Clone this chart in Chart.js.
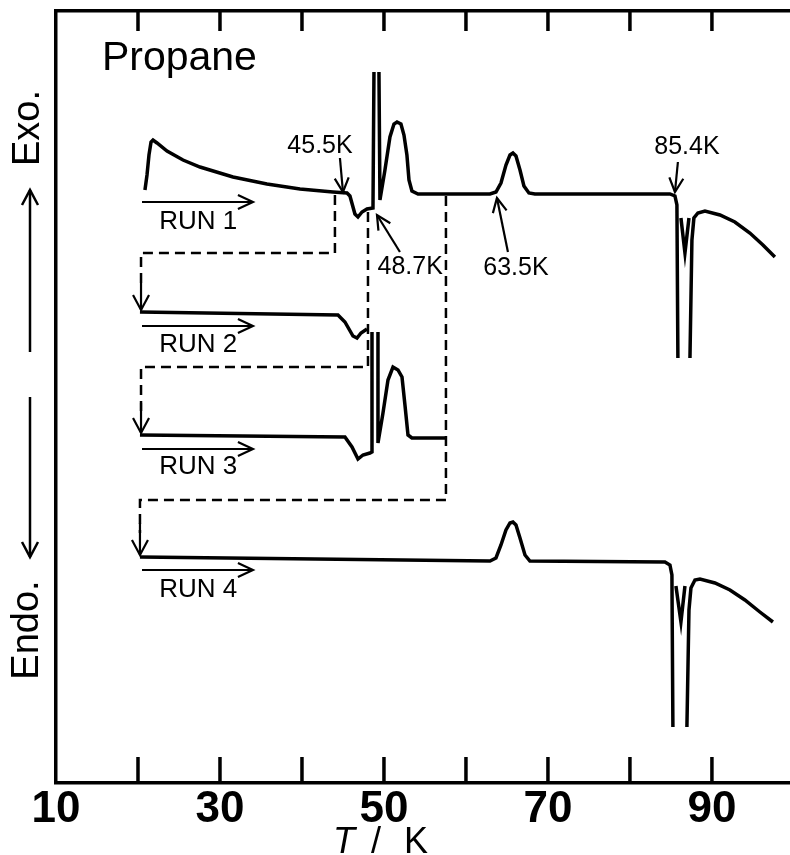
<!DOCTYPE html>
<html>
<head>
<meta charset="utf-8">
<script src="https://cdn.jsdelivr.net/npm/chart.js@4.4.1/dist/chart.umd.min.js"></script>
<style>
  html, body { margin: 0; padding: 0; background: #fff; }
  canvas { display: block; }
</style>
</head>
<body>
<canvas id="dsc" width="790" height="855"></canvas>
<script>
// temperature axis (K)
var tickValues = [20, 30, 40, 50, 60, 70, 80, 90];
var tickLabels = [10, 30, 50, 70, 90];

// heat flow, arbitrary units (exo up); null = pen off scale
var run1T = [20.85, 21.10, 21.34, 21.59, 21.83, 22.32, 23.54, 25.49, 27.56, 31.59, 35.73, 39.76, 43.78, 45.49, 45.85, 46.46, 46.83, 47.32, 47.93, 48.66, 48.78, 48.78, 49.39, 49.51, 50.12, 50.73, 51.22, 51.59, 52.07, 52.44, 52.80, 53.05, 53.41, 54.15, 62.93, 63.66, 64.27, 64.88, 65.37, 65.73, 66.10, 66.59, 67.07, 67.68, 68.41, 84.88, 85.49, 85.73, 85.85, 85.85, 86.22, 86.71, 87.20, 87.20, 87.32, 87.56, 87.80, 88.29, 89.15, 90.98, 92.80, 94.63, 96.22, 97.68];
var run1Y = [59.3, 60.8, 62.8, 64.1, 64.3, 64.0, 63.2, 62.3, 61.6, 60.6, 59.9, 59.4, 59.1, 59.0, 58.7, 56.9, 56.6, 57.1, 57.4, 57.5, 71.1, null, 71.1, 58.3, 61.3, 64.6, 65.9, 66.1, 65.9, 64.8, 62.8, 60.3, 59.2, 58.9, 58.9, 59.1, 60.0, 61.8, 62.8, 63.0, 62.7, 61.3, 59.7, 59.0, 58.9, 58.9, 58.7, 57.8, 42.5, null, 56.5, 53.0, 56.5, null, 42.5, 54.3, 56.5, 57.0, 57.2, 56.8, 56.1, 55.0, 53.8, 52.6];

var run2T = [20.24, 44.39, 45.24, 46.22, 46.71, 47.20, 47.93];
var run2Y = [47.1, 46.8, 46.1, 44.7, 44.5, 45.0, 45.4];

var run3T = [20.24, 45.24, 46.10, 46.83, 47.44, 48.29, 48.54, 48.54, 48.54, 49.27, 49.27, 49.88, 50.49, 51.10, 51.71, 52.20, 52.56, 52.93, 53.41, 57.56];
var run3Y = [34.8, 34.6, 33.6, 32.4, 32.8, 33.0, 33.1, 45.1, null, 45.1, 34.0, 37.0, 40.3, 41.6, 41.3, 40.6, 37.8, 34.8, 34.5, 34.5];

var run4T = [20.24, 62.93, 63.66, 64.27, 64.88, 65.37, 65.73, 66.10, 66.59, 67.20, 67.80, 84.27, 84.88, 85.12, 85.24, 85.24, 85.61, 86.22, 86.71, 86.71, 86.95, 87.20, 87.44, 87.93, 88.54, 90.37, 92.20, 94.02, 95.85, 97.44];
var run4Y = [22.6, 22.2, 22.5, 23.8, 25.3, 26.0, 26.1, 25.8, 24.5, 22.8, 22.2, 22.1, 21.8, 20.8, 5.6, null, 19.7, 16.1, 19.7, null, 5.6, 17.3, 19.5, 20.3, 20.4, 20.0, 19.3, 18.3, 17.1, 16.1];

// cooling paths between runs (dashed)
var cool1T = [44.02, 44.02, 20.37, 20.37];
var cool1Y = [58.8, 53.0, 53.0, 49.5];
var cool2T = [48.05, 48.05, 20.37, 20.37];
var cool2Y = [57.1, 41.6, 41.6, 37.2];
var cool3T = [57.56, 57.56, 20.24, 20.24];
var cool3Y = [58.7, 28.3, 28.3, 25.0];

var runNames = ["RUN 1", "RUN 2", "RUN 3", "RUN 4"];
var transitions = ["45.5K", "48.7K", "63.5K", "85.4K"];

function pts(t, y) {
  return t.map(function (v, i) { return { x: v, y: y[i] }; });
}

function curve(t, y) {
  return { data: pts(t, y), borderColor: "#000", borderWidth: 3.5, pointRadius: 0, tension: 0, spanGaps: false };
}

function dashed(t, y) {
  return { data: pts(t, y), borderColor: "#000", borderWidth: 2.5, borderDash: [10, 6], pointRadius: 0, tension: 0 };
}

function arrow(ctx, x1, y1, x2, y2, head, half) {
  ctx.beginPath();
  ctx.moveTo(x1, y1);
  ctx.lineTo(x2, y2);
  ctx.stroke();
  var a = Math.atan2(y2 - y1, x2 - x1);
  var c = Math.cos(a), s = Math.sin(a);
  ctx.beginPath();
  ctx.moveTo(x2 - head * c + half * s, y2 - head * s - half * c);
  ctx.lineTo(x2, y2);
  ctx.lineTo(x2 - head * c - half * s, y2 - head * s + half * c);
  ctx.stroke();
}

var decor = {
  id: "decor",
  afterDatasetsDraw: function (chart) {
    var ctx = chart.ctx;
    var xs = chart.scales.x, ys = chart.scales.y, ca = chart.chartArea;
    function X(t) { return xs.getPixelForValue(t); }
    function Y(v) { return ys.getPixelForValue(v); }
    ctx.save();
    ctx.strokeStyle = "#000";
    ctx.fillStyle = "#000";
    ctx.lineCap = "butt";

    // inward ticks
    ctx.lineWidth = 3.5;
    tickValues.forEach(function (t) {
      var x = X(t);
      ctx.beginPath();
      ctx.moveTo(x, ca.bottom);
      ctx.lineTo(x, ca.bottom - 26);
      ctx.moveTo(x, ca.top);
      ctx.lineTo(x, ca.top + 20);
      ctx.stroke();
    });

    // arrows at the end of the cooling paths
    ctx.lineWidth = 2.2;
    arrow(ctx, X(20.37), Y(50), X(20.37), Y(47.3), 15, 8);
    arrow(ctx, X(20.37), Y(38), X(20.37), Y(35.0), 15, 8);
    arrow(ctx, X(20.24), Y(26), X(20.24), Y(22.8), 15, 8);

    // heating direction arrows
    var runArrowY = [58.1, 45.7, 33.4, 21.3];
    var runLabelY = [56.1, 43.8, 31.6, 19.3];
    ctx.font = "26px 'Liberation Sans', Arial, sans-serif";
    ctx.textAlign = "left";
    ctx.textBaseline = "middle";
    runNames.forEach(function (name, i) {
      arrow(ctx, X(20.49), Y(runArrowY[i]), X(34.02), Y(runArrowY[i]), 15, 7);
      ctx.fillText(name, X(22.6), Y(runLabelY[i]));
    });

    // transition temperature labels
    var lab = [[42.2, 63.7], [53.2, 51.6], [66.1, 51.5], [86.95, 63.6]];
    var tail = [[44.63, 62.5], [51.95, 53.1], [65.12, 53.1], [85.85, 62.1]];
    var tip = [[45.0, 59.1], [49.15, 56.8], [63.78, 58.5], [85.49, 59.1]];
    ctx.font = "25px 'Liberation Sans', Arial, sans-serif";
    ctx.textAlign = "center";
    transitions.forEach(function (s, i) {
      ctx.fillText(s, X(lab[i][0]), Y(lab[i][1]));
      arrow(ctx, X(tail[i][0]), Y(tail[i][1]), X(tip[i][0]), Y(tip[i][1]), 14, 7);
    });

    // sample name
    ctx.font = "41px 'Liberation Sans', Arial, sans-serif";
    ctx.textAlign = "left";
    ctx.textBaseline = "alphabetic";
    ctx.fillText("Propane", X(15.6), Y(71.3));

    // Exo / Endo
    ctx.lineWidth = 2.5;
    arrow(ctx, 30, 352, 30, 190, 15, 8);
    arrow(ctx, 30, 397, 30, 557, 15, 8);
    ctx.font = "38px 'Liberation Sans', Arial, sans-serif";
    ctx.textAlign = "center";
    ctx.textBaseline = "middle";
    ctx.save();
    ctx.translate(29, 128);
    ctx.rotate(-Math.PI / 2);
    ctx.fillText("Exo.", 0, 0);
    ctx.restore();
    ctx.save();
    ctx.translate(28, 630);
    ctx.rotate(-Math.PI / 2);
    ctx.fillText("Endo.", 0, 0);
    ctx.restore();

    // axis title T / K
    ctx.textAlign = "left";
    ctx.textBaseline = "alphabetic";
    ctx.font = "italic 36px 'Liberation Sans', Arial, sans-serif";
    ctx.fillText("T", 333, 853);
    ctx.font = "36px 'Liberation Sans', Arial, sans-serif";
    ctx.fillText("/", 371, 853);
    ctx.fillText("K", 404, 853);
    ctx.restore();
  }
};

new Chart(document.getElementById("dsc"), {
  type: "line",
  data: {
    datasets: [
      curve(run1T, run1Y),
      curve(run2T, run2Y),
      curve(run3T, run3Y),
      curve(run4T, run4Y),
      dashed(cool1T, cool1Y),
      dashed(cool2T, cool2Y),
      dashed(cool3T, cool3Y)
    ]
  },
  options: {
    responsive: false,
    animation: false,
    layout: { padding: { left: 0, right: 1, top: 0, bottom: 0 } },
    plugins: { legend: { display: false }, tooltip: { enabled: false } },
    scales: {
      x: {
        type: "linear",
        position: "bottom",
        min: 10,
        max: 99.4,
        grid: { display: false, drawTicks: false },
        border: { display: true, width: 3.5, color: "#000" },
        ticks: {
          stepSize: 10,
          includeBounds: false,
          autoSkip: false,
          maxRotation: 0,
          padding: 5,
          color: "#000",
          font: { family: "'Liberation Sans', Arial, sans-serif", size: 44, weight: "bold", lineHeight: 1 },
          callback: function (v) {
            var r = Math.round(v);
            return tickLabels.indexOf(r) >= 0 ? String(r) : "";
          }
        },
        afterFit: function (s) { s.height = 72; }
      },
      xTop: {
        type: "linear",
        position: "top",
        min: 10,
        max: 99.4,
        grid: { display: false, drawTicks: false },
        border: { display: true, width: 3.5, color: "#000" },
        ticks: { display: false },
        afterFit: function (s) { s.height = 11; }
      },
      y: {
        type: "linear",
        min: 0,
        max: 77.2,
        grid: { display: false, drawTicks: false },
        border: { display: true, width: 3.5, color: "#000" },
        ticks: { display: false },
        afterFit: function (s) { s.width = 56; }
      }
    }
  },
  plugins: [decor]
});
</script>
</body>
</html>
